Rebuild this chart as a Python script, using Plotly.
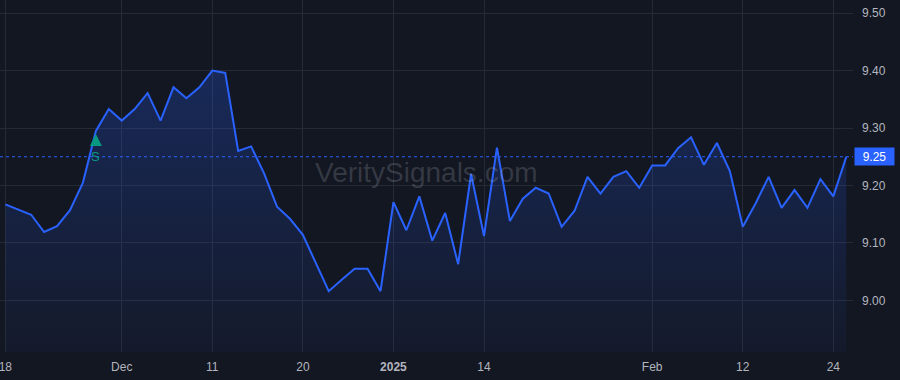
import plotly.graph_objects as go

# ---- data ----
dates = [
    "2024-11-18", "2024-11-19", "2024-11-20", "2024-11-21", "2024-11-22",
    "2024-11-25", "2024-11-26", "2024-11-27", "2024-11-29",
    "2024-12-02", "2024-12-03", "2024-12-04", "2024-12-05", "2024-12-06",
    "2024-12-09", "2024-12-10", "2024-12-11", "2024-12-12", "2024-12-13",
    "2024-12-16", "2024-12-17", "2024-12-18", "2024-12-19", "2024-12-20",
    "2024-12-23", "2024-12-24", "2024-12-26", "2024-12-27", "2024-12-30",
    "2024-12-31",
    "2025-01-02", "2025-01-03", "2025-01-06", "2025-01-07", "2025-01-08",
    "2025-01-10", "2025-01-13", "2025-01-14", "2025-01-15", "2025-01-16",
    "2025-01-17", "2025-01-21", "2025-01-22", "2025-01-23", "2025-01-24",
    "2025-01-27", "2025-01-28", "2025-01-29", "2025-01-30", "2025-01-31",
    "2025-02-03", "2025-02-04", "2025-02-05", "2025-02-06", "2025-02-07",
    "2025-02-10", "2025-02-11", "2025-02-12", "2025-02-13", "2025-02-14",
    "2025-02-18", "2025-02-19", "2025-02-20", "2025-02-21", "2025-02-24",
    "2025-02-25",
]
close = [
    9.167, 9.158, 9.149, 9.119, 9.129, 9.157, 9.205, 9.295, 9.333,
    9.313, 9.333, 9.361, 9.313, 9.371, 9.352, 9.371, 9.400, 9.396, 9.260,
    9.268, 9.221, 9.163, 9.142, 9.114, 9.065, 9.016, 9.036, 9.055, 9.055,
    9.016,
    9.171, 9.122, 9.181, 9.104, 9.152, 9.063, 9.220, 9.112, 9.266, 9.138,
    9.177, 9.196, 9.186, 9.128, 9.156, 9.215, 9.186, 9.215, 9.225, 9.196,
    9.235, 9.235, 9.265, 9.284, 9.236, 9.274, 9.225, 9.128, 9.169, 9.215,
    9.161, 9.192, 9.161, 9.211, 9.181, 9.250,
]
tick_dates = ["2024-11-18", "2024-12-02", "2024-12-11", "2024-12-20",
              "2025-01-02", "2025-01-14", "2025-02-03", "2025-02-12",
              "2025-02-24"]
tick_labels = ["18", "Dec", "11", "20", "<b>2025</b>", "14", "Feb", "12", "24"]
y_ticks = [9.00, 9.10, 9.20, 9.30, 9.40, 9.50]
signal_dates = ["2024-11-27"]
signal_labels = ["S"]
watermark = "VeritySignals.com"

# ---- style ----
BG = "#131722"
GRID = "#262a35"
LINE = "#2962ff"
TEXT = "#b2b5be"
GREEN = "#089981"
FONT = "Liberation Sans, Arial, sans-serif"
y_range = [8.910, 9.523]
x_range = [-0.41, len(dates) - 1 + 0.52]

fig = go.Figure()
fig.add_trace(go.Scatter(
    x=dates, y=close, mode="lines",
    line=dict(color=LINE, width=2),
    fill="tozeroy",
    fillgradient=dict(
        type="vertical",
        colorscale=[[0, "rgba(41,98,255,0.04)"], [1, "rgba(41,98,255,0.25)"]],
        start=y_range[0], stop=max(close),
    ),
    hoverinfo="skip",
    showlegend=False,
))

last = close[-1]
fig.add_shape(type="line", xref="paper", x0=0, x1=1, yref="y", y0=last, y1=last,
              line=dict(color=LINE, width=1, dash="dot"))

# last price label
fig.add_annotation(xref="paper", x=1, xanchor="left", yref="y", y=last,
                   text=f"{last:.2f}", showarrow=False,
                   font=dict(color="white", size=12, family=FONT),
                   bgcolor=LINE, width=39, height=17, borderpad=0, xshift=1)

# signal markers
for d, lab in zip(signal_dates, signal_labels):
    i = dates.index(d)
    # arrow
    fig.add_annotation(x=d, y=close[i], text="", showarrow=True,
                       arrowhead=2, arrowsize=0.75, arrowwidth=3.2,
                       arrowcolor=GREEN, ax=0, ay=15, standoff=3)
    # label
    fig.add_annotation(x=d, y=close[i], text=lab, showarrow=False,
                       yshift=-26,
                       font=dict(color=GREEN, size=13, family=FONT))

# watermark
fig.add_annotation(xref="paper", yref="paper", x=0.5, y=0.51, text=watermark,
                   showarrow=False,
                   font=dict(color="rgba(178,181,190,0.22)", size=28, family=FONT))

fig.update_layout(
    width=900, height=380,
    margin=dict(l=0, r=47, t=0, b=28),
    paper_bgcolor=BG, plot_bgcolor=BG,
    font=dict(family=FONT, size=12, color=TEXT),
    xaxis=dict(type="category", range=x_range, tickvals=tick_dates,
               ticktext=tick_labels, showgrid=True, gridcolor=GRID,
               gridwidth=1, zeroline=False, showline=False, ticks="",
               ticklabelstandoff=6, tickfont=dict(color=TEXT, size=12)),
    yaxis=dict(side="right", range=y_range, tickvals=y_ticks,
               tickformat=".2f", showgrid=True, gridcolor=GRID, gridwidth=1,
               zeroline=False, showline=False, ticks="",
               ticklabelstandoff=8, tickfont=dict(color=TEXT, size=12)),
)

fig.write_html("out.html")
